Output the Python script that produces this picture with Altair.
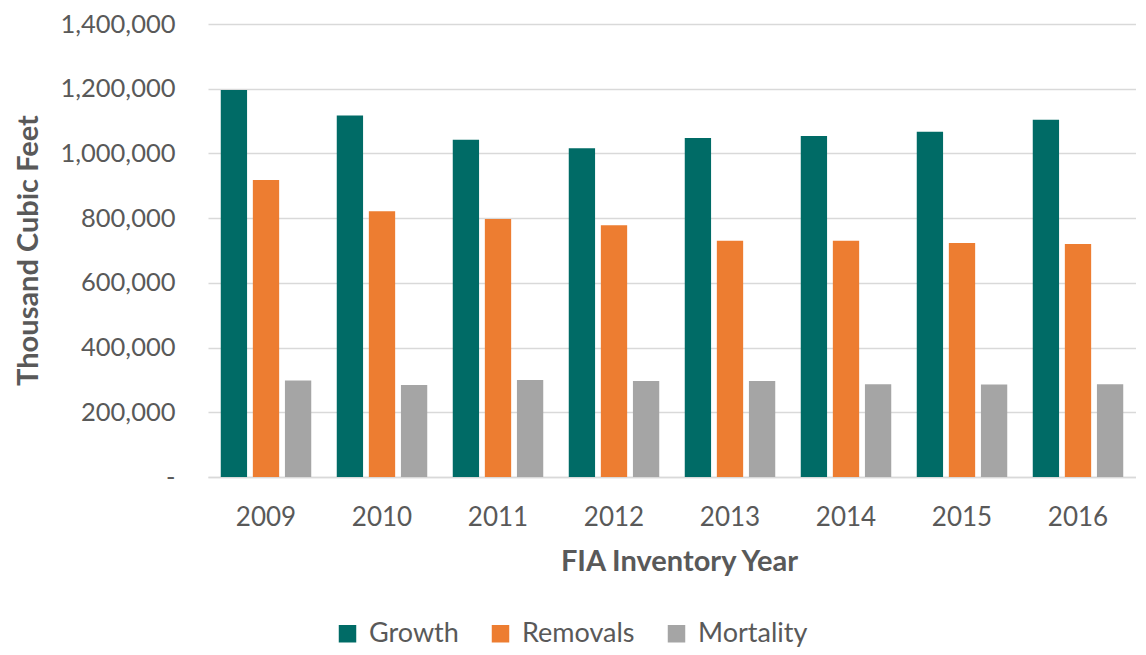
import altair as alt
import pandas as pd

years = ["2009", "2010", "2011", "2012", "2013", "2014", "2015", "2016"]
series = ["Growth", "Removals", "Mortality"]
growth = [1196000, 1117000, 1042000, 1016000, 1048000, 1054000, 1067000, 1104000]
removals = [918000, 821000, 797000, 778000, 730000, 730000, 723000, 720000]
mortality = [298000, 284000, 300000, 297000, 297000, 287000, 286000, 287000]
colors = ["#006B66", "#ED7D31", "#A5A5A5"]
y_ticks = [0, 200000, 400000, 600000, 800000, 1000000, 1200000, 1400000]

rows = []
for name, vals in zip(series, [growth, removals, mortality]):
    for yr, v in zip(years, vals):
        rows.append({"year": yr, "series": name, "value": v})
df = pd.DataFrame(rows)

FONT = "Lato"
TXT = "#595959"

chart = alt.Chart(df).mark_bar().encode(
    x=alt.X("year:N", sort=years,
            scale=alt.Scale(paddingInner=0.22, paddingOuter=0.11),
            axis=alt.Axis(title="FIA Inventory Year", labelAngle=0, ticks=False,
                          domainColor="#D9D9D9", domainWidth=1.5,
                          labelPadding=27, labelFontSize=26, labelColor=TXT, labelFont=FONT,
                          titleFont=FONT, titleFontSize=29, titleFontWeight="bold", titleColor=TXT,
                          titleX=471, titleY=84, titleAlign="center", titleBaseline="middle")),
    xOffset=alt.XOffset("series:N", sort=series,
                        scale=alt.Scale(paddingInner=0.18, paddingOuter=0)),
    y=alt.Y("value:Q", scale=alt.Scale(domain=[0, 1400000], nice=False),
            axis=alt.Axis(values=y_ticks, title="Thousand Cubic Feet", domain=False, ticks=False,
                          gridColor="#D9D9D9", gridWidth=1.5,
                          labelExpr="datum.value == 0 ? '-' : format(datum.value, ',')",
                          labelPadding=33, labelFontSize=25.5, labelColor=TXT, labelFont=FONT,
                          titleFont=FONT, titleFontSize=29, titleFontWeight="bold", titleColor=TXT,
                          titleAngle=-90, titleX=-180, titleY=226, titleAlign="center",
                          titleBaseline="middle")),
    color=alt.Color("series:N", sort=series,
                    scale=alt.Scale(domain=series, range=colors),
                    legend=alt.Legend(title=None, orient="none", direction="horizontal",
                                      legendX=126, legendY=596,
                                      symbolType="square", symbolSize=306, symbolStrokeWidth=0,
                                      labelFont=FONT, labelFontSize=27, labelColor=TXT,
                                      labelOffset=8, columnPadding=28, padding=0)),
).properties(
    width=928, height=453,
    autosize=alt.AutoSizeParams(type="none"),
    padding={"left": 200, "top": 16, "right": 0, "bottom": 170},
).configure_view(stroke=None)

chart.save("out.html", embed_options={"renderer": "svg", "actions": False})
